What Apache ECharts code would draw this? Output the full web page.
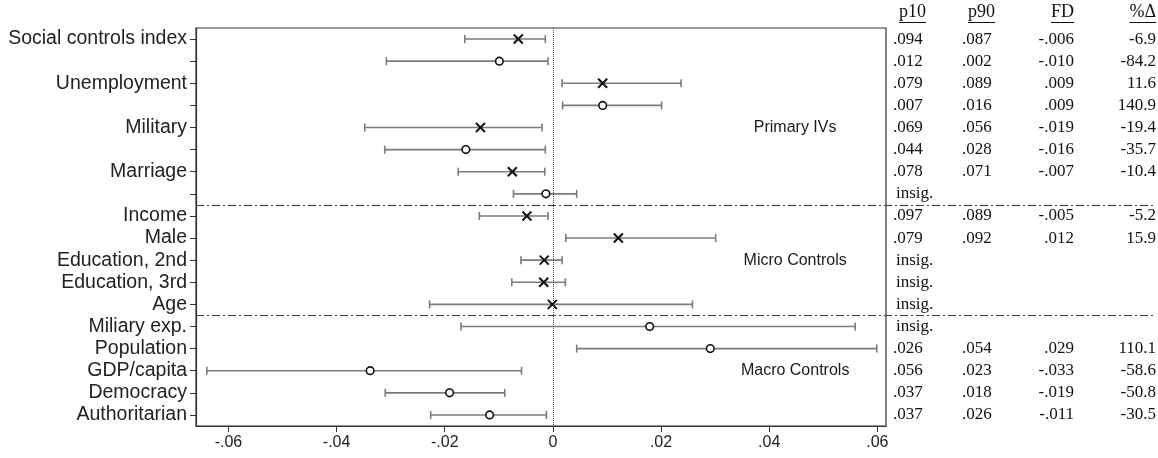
<!DOCTYPE html>
<html>
<head>
<meta charset="utf-8">
<script src="https://cdn.jsdelivr.net/npm/echarts@6/dist/echarts.min.js"></script>
<style>
  html, body { margin: 0; padding: 0; background: #fff; }
  #main { width: 1158px; height: 458px; }
</style>
</head>
<body>
<div id="main"></div>
<script>
// rows, top to bottom (blank label = second estimate of the same variable)
var rowLabels = ['Social controls index', '', 'Unemployment', '', 'Military', '', 'Marriage', '',
  'Income', 'Male', 'Education, 2nd', 'Education, 3rd', 'Age',
  'Miliary exp.', 'Population', 'GDP/capita', 'Democracy', 'Authoritarian'];
// x = individual level marker, o = aggregate level marker
var markerKind = ['x', 'o', 'x', 'o', 'x', 'o', 'x', 'o',
  'x', 'x', 'x', 'x', 'x',
  'o', 'o', 'o', 'o', 'o'];
var estimate = [-0.0064, -0.0099, 0.0092, 0.0092, -0.0134, -0.0161, -0.0075, -0.0013,
  -0.0048, 0.0121, -0.0016, -0.0017, -0.0001,
  0.0179, 0.0291, -0.0338, -0.0191, -0.0117];
var ciLow = [-0.0163, -0.0308, 0.0017, 0.0018, -0.0348, -0.0311, -0.0175, -0.0073,
  -0.0136, 0.0024, -0.0059, -0.0076, -0.0228,
  -0.0170, 0.0044, -0.0640, -0.0310, -0.0226];
var ciHigh = [-0.0014, -0.0009, 0.0237, 0.0201, -0.0020, -0.0014, -0.0015, 0.0044,
  -0.0009, 0.0301, 0.0017, 0.0023, 0.0258,
  0.0559, 0.0599, -0.0058, -0.0089, -0.0012];

var xTicks = [-0.06, -0.04, -0.02, 0, 0.02, 0.04, 0.06];

// table on the right
var colP10 = ['.094', '.012', '.079', '.007', '.069', '.044', '.078', 'insig.',
  '.097', '.079', 'insig.', 'insig.', 'insig.',
  'insig.', '.026', '.056', '.037', '.037'];
var colP90 = ['.087', '.002', '.089', '.016', '.056', '.028', '.071', '',
  '.089', '.092', '', '', '',
  '', '.054', '.023', '.018', '.026'];
var colFD = ['-.006', '-.010', '.009', '.009', '-.019', '-.016', '-.007', '',
  '-.005', '.012', '', '', '',
  '', '.029', '-.033', '-.019', '-.011'];
var colPct = ['-6.9', '-84.2', '11.6', '140.9', '-19.4', '-35.7', '-10.4', '',
  '-5.2', '15.9', '', '', '',
  '', '110.1', '-58.6', '-50.8', '-30.5'];
var tableHeaders = ['p10', 'p90', 'FD', '%\u0394'];

// group separators after these rows
var separatorAfter = [7, 12];
var groupLabels = [
  { name: 'Primary IVs', row: 4 },
  { name: 'Micro Controls', row: 10 },
  { name: 'Macro Controls', row: 15 }
];
var groupLabelX = 0.0448;

var sansFont = '"Liberation Sans", Arial, sans-serif';
var serifFont = '"Liberation Serif", "Times New Roman", serif';

var chart = echarts.init(document.getElementById('main'));

var barData = [];
for (var i = 0; i < rowLabels.length; i++) {
  barData.push([i, ciLow[i], ciHigh[i], estimate[i], markerKind[i] === 'x' ? 1 : 0]);
}

function fmtTick(v) {
  if (Math.abs(v) < 1e-9) return '0';
  var s = Math.abs(v).toFixed(2).replace(/^0/, '');
  return (v < 0 ? '-' : '') + s;
}

function renderBar(params, api) {
  var row = api.value(0);
  var lo = api.coord([api.value(1), row]);
  var hi = api.coord([api.value(2), row]);
  var pt = api.coord([api.value(3), row]);
  var cap = 4;
  var barStyle = { stroke: '#7b7b7b', lineWidth: 1.6 };
  var children = [
    { type: 'line', shape: { x1: lo[0], y1: lo[1], x2: hi[0], y2: hi[1] }, style: barStyle },
    { type: 'line', shape: { x1: lo[0], y1: lo[1] - cap, x2: lo[0], y2: lo[1] + cap }, style: barStyle },
    { type: 'line', shape: { x1: hi[0], y1: hi[1] - cap, x2: hi[0], y2: hi[1] + cap }, style: barStyle }
  ];
  if (api.value(4) === 1) {
    var r = 4.5;
    var mStyle = { stroke: '#111', lineWidth: 2 };
    children.push({ type: 'line', shape: { x1: pt[0] - r, y1: pt[1] - r, x2: pt[0] + r, y2: pt[1] + r }, style: mStyle });
    children.push({ type: 'line', shape: { x1: pt[0] - r, y1: pt[1] + r, x2: pt[0] + r, y2: pt[1] - r }, style: mStyle });
  } else {
    children.push({ type: 'circle', shape: { cx: pt[0], cy: pt[1], r: 3.8 },
      style: { fill: '#fff', stroke: '#111', lineWidth: 1.6 } });
  }
  return { type: 'group', children: children };
}

chart.setOption({
  animation: false,
  grid: {
    left: 196, right: 272, top: 28, bottom: 32,
    show: true, borderColor: '#333', borderWidth: 1.2, backgroundColor: 'transparent'
  },
  xAxis: {
    type: 'value',
    min: -0.066,
    max: 0.0616,
    axisLine: { show: true, lineStyle: { color: '#333', width: 1.2 } },
    axisTick: { show: true, length: 6, customValues: xTicks, lineStyle: { color: '#333' } },
    axisLabel: {
      customValues: xTicks, formatter: fmtTick,
      fontFamily: sansFont, fontSize: 16, color: '#222', margin: 9
    },
    splitLine: { show: false }
  },
  yAxis: {
    type: 'category',
    data: rowLabels,
    inverse: true,
    axisLine: { show: true, onZero: false, lineStyle: { color: '#333', width: 1.2 } },
    axisTick: { show: true, alignWithLabel: true, length: 6, lineStyle: { color: '#333' } },
    axisLabel: { fontFamily: sansFont, fontSize: 19.5, color: '#222', margin: 9, interval: 0 },
    splitLine: { show: false }
  },
  series: [
    {
      type: 'custom',
      renderItem: renderBar,
      encode: { x: [1, 2], y: 0 },
      data: barData,
      z: 3,
      markLine: {
        silent: true,
        symbol: 'none',
        label: { show: false },
        lineStyle: { type: 'dotted', color: '#444', width: 1 },
        data: [{ xAxis: 0 }]
      }
    },
    {
      type: 'scatter',
      symbolSize: 0,
      silent: true,
      itemStyle: { opacity: 1 },
      data: groupLabels.map(function (g) { return { name: g.name, value: [groupLabelX, g.row] }; }),
      label: {
        show: true, position: 'inside', formatter: '{b}',
        fontFamily: sansFont, fontSize: 16, color: '#1a1a1a', opacity: 1
      }
    }
  ]
});

// separators and the table are placed at the rows of the category axis
function rowY(i) {
  return chart.convertToPixel({ yAxisIndex: 0 }, i);
}

var measureCtx = document.createElement('canvas').getContext('2d');
function textWidth(str, font) {
  measureCtx.font = font;
  return measureCtx.measureText(str).width;
}

var plotLeft = 196;
var tableRight = 1156;
var graphics = [];

separatorAfter.forEach(function (r) {
  var y = Math.round((rowY(r) + rowY(r + 1)) / 2) + 0.5;
  graphics.push({
    type: 'line', z: 10,
    shape: { x1: plotLeft, y1: y, x2: tableRight, y2: y },
    style: { stroke: '#444', lineWidth: 1.2, lineDash: [8, 3, 2, 3] }
  });
});

var colX = [893, 962, 1074, 1156];
var colAlign = ['left', 'left', 'right', 'right'];
var headerSize = 18;
var cellSize = 17;

tableHeaders.forEach(function (h, c) {
  var w = textWidth(h, headerSize + 'px ' + serifFont);
  var hx = colAlign[c] === 'left' ? colX[c] + 6 : colX[c];
  graphics.push({
    type: 'text', x: hx, y: 12,
    style: { text: h, font: headerSize + 'px ' + serifFont, fill: '#111',
      align: colAlign[c], verticalAlign: 'middle' }
  });
  var x1 = colAlign[c] === 'left' ? hx : hx - w;
  graphics.push({
    type: 'line',
    shape: { x1: x1, y1: 22.5, x2: x1 + w, y2: 22.5 },
    style: { stroke: '#111', lineWidth: 1 }
  });
});

var columns = [colP10, colP90, colFD, colPct];
for (var r = 0; r < rowLabels.length; r++) {
  var y = rowY(r);
  columns.forEach(function (col, c) {
    var txt = col[r];
    if (!txt) return;
    var insig = txt === 'insig.';
    graphics.push({
      type: 'text', x: insig ? colX[c] + 3 : colX[c], y: y,
      style: { text: txt, font: cellSize + 'px ' + serifFont, fill: '#111',
        align: colAlign[c], verticalAlign: 'middle' }
    });
  });
}

chart.setOption({ graphic: graphics });
</script>
</body>
</html>
